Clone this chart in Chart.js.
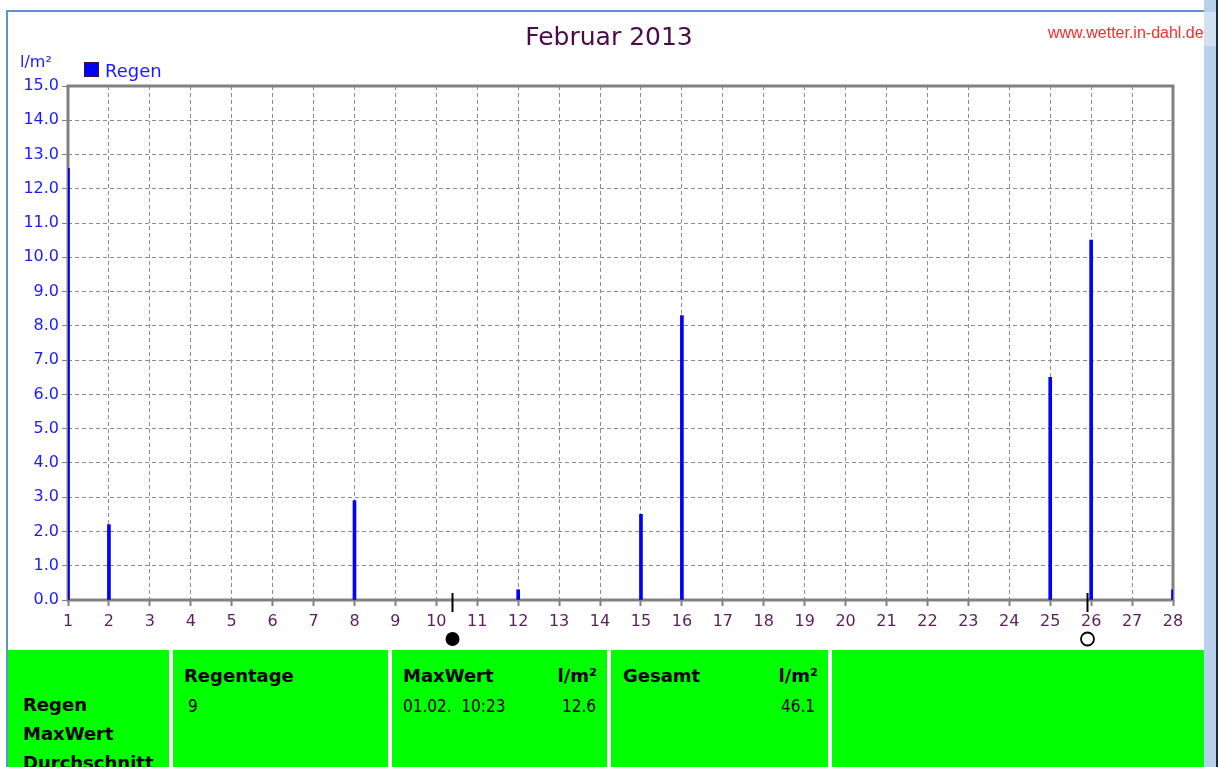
<!DOCTYPE html>
<html>
<head>
<meta charset="utf-8">
<script src="https://cdn.jsdelivr.net/npm/chart.js@4"></script>
<style>
  html, body { margin:0; padding:0; background:#fff; overflow:hidden; }
  body { width:1218px; height:767px; position:relative; font-family:"DejaVu Sans", sans-serif; }
  #c { position:absolute; left:0; top:0; background:#fff; }
  .abs { position:absolute; white-space:nowrap; }
  .frameTop { left:6px; top:10px; width:1198px; height:2px; background:#6392c8; }
  .frameLeft { left:6px; top:10px; width:2px; height:757px; background:#6392c8; }
  .scroll { left:1204px; top:0; width:12px; height:767px; background:#b9d1ea; }
  .scrollTop { left:1204px; top:12px; width:12px; height:34px; background:#d3e2f3; }
  .scrollDark { left:1216px; top:0; width:2px; height:767px; background:#1c2a38; }
  .title { left:0; width:1218px; text-align:center; top:22px; font-size:25px; color:#4a0b4a; }
  .url { left:1048px; top:24px; font-family:"Liberation Sans", Arial, sans-serif; font-size:16px; color:#ff2a2a; }
  .unit { left:20px; top:52px; font-size:16px; color:#1a1aff; }
  .legBox { left:84px; top:62px; width:13px; height:13px; background:#0000ff; border:1px solid #3a1040; }
  .legTxt { left:105px; top:60px; font-size:18px; color:#1a1aff; }
  .cell { position:absolute; top:650px; height:117px; background:#00ff00; overflow:hidden; }
  .b { position:absolute; font-weight:bold; font-size:18px; color:#000; white-space:nowrap; }
  .v { position:absolute; font-family:"DejaVu Sans Condensed", "DejaVu Sans", sans-serif; font-stretch:condensed; font-size:17px; color:#000; white-space:nowrap; }
</style>
</head>
<body>
<canvas id="c" width="1218" height="650"></canvas>

<div class="abs title">Februar 2013</div>
<div class="abs url">www.wetter.in-dahl.de</div>
<div class="abs unit">l/m²</div>
<div class="abs legBox"></div>
<div class="abs legTxt">Regen</div>

<div class="cell" style="left:8px;width:161px;">
  <div class="b" style="left:15px;top:44px;">Regen</div>
  <div class="b" style="left:15px;top:73px;">MaxWert</div>
  <div class="b" style="left:15px;top:102px;">Durchschnitt</div>
</div>
<div class="cell" style="left:173px;width:215px;">
  <div class="b" style="left:11px;top:15px;">Regentage</div>
  <div class="v" style="left:15px;top:46px;">9</div>
</div>
<div class="cell" style="left:392px;width:215px;">
  <div class="b" style="left:11px;top:15px;">MaxWert</div>
  <div class="b" style="right:10px;top:15px;">l/m²</div>
  <div class="v" style="left:11px;top:46px;">01.02.&nbsp; 10:23</div>
  <div class="v" style="right:11px;top:46px;">12.6</div>
</div>
<div class="cell" style="left:611px;width:217px;">
  <div class="b" style="left:12px;top:15px;">Gesamt</div>
  <div class="b" style="right:10px;top:15px;">l/m²</div>
  <div class="v" style="right:13px;top:46px;">46.1</div>
</div>
<div class="cell" style="left:832px;width:372px;"></div>

<div class="abs frameTop"></div>
<div class="abs frameLeft"></div>
<div class="abs scroll"></div>
<div class="abs scrollTop"></div>
<div class="abs scrollDark"></div>

<script>
// ---- data ----
const days = [1, 2, 8, 12, 15, 16, 25, 26, 28];
const rain = [12.6, 2.2, 2.9, 0.3, 2.5, 8.3, 6.5, 10.5, 0.3];
const xTickValues = [1,2,3,4,5,6,7,8,9,10,11,12,13,14,15,16,17,18,19,20,21,22,23,24,25,26,27,28];
const yTickValues = [0,1,2,3,4,5,6,7,8,9,10,11,12,13,14,15];
const moonDays = [10.38, 25.9];
const moonFilled = [true, false];

const framePlugin = {
  id: 'frame',
  beforeDatasetsDraw(chart) {
    const a = chart.chartArea, ctx = chart.ctx;
    ctx.save();
    ctx.strokeStyle = '#808080';
    ctx.lineWidth = 3;
    ctx.strokeRect(a.left, a.top, a.right - a.left, a.bottom - a.top);
    ctx.restore();
  }
};

const moonPlugin = {
  id: 'moon',
  afterDraw(chart) {
    const ctx = chart.ctx, xs = chart.scales.x, a = chart.chartArea;
    ctx.save();
    moonDays.forEach((d, i) => {
      const px = Math.round(xs.getPixelForValue(d)) + 0.5;
      ctx.strokeStyle = '#000';
      ctx.lineWidth = 2;
      ctx.beginPath();
      ctx.moveTo(px, a.bottom - 7);
      ctx.lineTo(px, a.bottom + 12);
      ctx.stroke();
      ctx.beginPath();
      ctx.arc(px, a.bottom + 39, moonFilled[i] ? 7 : 6.5, 0, Math.PI * 2);
      if (moonFilled[i]) { ctx.fillStyle = '#000'; ctx.fill(); }
      else { ctx.lineWidth = 1.8; ctx.stroke(); }
    });
    ctx.restore();
  }
};

new Chart(document.getElementById('c'), {
  type: 'bar',
  data: {
    datasets: [{
      label: 'Regen',
      data: days.map((d, i) => ({ x: d, y: rain[i] })),
      backgroundColor: '#0000ff',
      borderWidth: 0,
      barThickness: 3
    }]
  },
  options: {
    responsive: false,
    animation: false,
    devicePixelRatio: 1,
    layout: { padding: { top: 86, right: 45, left: 0, bottom: 0 } },
    plugins: { legend: { display: false }, title: { display: false }, tooltip: { enabled: false } },
    scales: {
      x: {
        type: 'linear',
        min: 1, max: 28,
        offset: false,
        afterBuildTicks(s) { s.ticks = xTickValues.map(v => ({ value: v })); },
        afterFit(s) { s.height = 50; },
        ticks: {
          autoSkip: false, maxRotation: 0, minRotation: 0,
          padding: 6,
          color: '#5a1f5a',
          font: { family: 'DejaVu Sans', size: 16 },
          callback: v => String(v)
        },
        grid: {
          offset: false,
          color: '#8c8c8c', lineWidth: 1,
          drawTicks: true, tickLength: 6, tickColor: '#808080', tickWidth: 2, tickBorderDash: []
        },
        border: { display: false, dash: [4, 3] }
      },
      y: {
        min: 0, max: 15,
        afterBuildTicks(s) { s.ticks = yTickValues.map(v => ({ value: v })); },
        afterFit(s) { s.width = 68; },
        ticks: {
          padding: 3,
          color: '#1a1aff',
          font: { family: 'DejaVu Sans', size: 16 },
          callback: v => Number(v).toFixed(1)
        },
        grid: {
          color: '#8c8c8c', lineWidth: 1,
          drawTicks: true, tickLength: 6, tickColor: '#808080', tickWidth: 1, tickBorderDash: []
        },
        border: { display: false, dash: [4, 3] }
      }
    }
  },
  plugins: [framePlugin, moonPlugin]
});
</script>
</body>
</html>
